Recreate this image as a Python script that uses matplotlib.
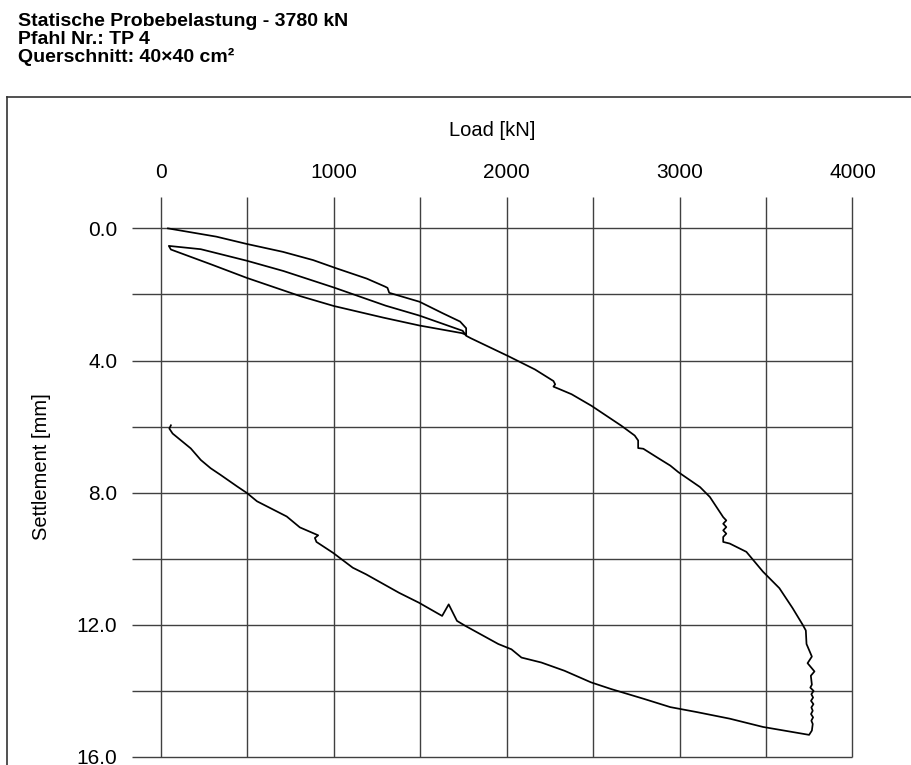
import matplotlib
matplotlib.use("Agg")
import matplotlib.pyplot as plt
from matplotlib.lines import Line2D

plt.rcParams['font.family'] = ['Liberation Sans', 'DejaVu Sans']

# first loading up to ~1760 kN
load_1 = [40, 320, 495, 705, 880, 1015, 1190, 1295, 1310, 1320, 1495, 1630, 1730, 1765, 1765]
settle_1 = [0.0, 0.25, 0.47, 0.71, 0.96, 1.21, 1.52, 1.76, 1.80, 1.95, 2.22, 2.57, 2.82, 3.02, 3.22]

# first unloading
load_unl1 = [1740, 1495, 1285, 1000, 805, 497, 290, 57, 45]
settle_unl1 = [3.17, 2.94, 2.70, 2.35, 2.05, 1.50, 1.09, 0.64, 0.53]

# reloading and loading to max load
load_2 = [230, 497, 708, 1000, 1300, 1495, 1745, 1765, 1790, 2010, 2163, 2270, 2280, 2270,
          2298, 2375, 2490, 2662, 2740, 2760, 2760, 2790, 2875, 2946, 2993, 3118, 3175,
          3252, 3270, 3252, 3270, 3252, 3270, 3252, 3252, 3290, 3386, 3482, 3577, 3653,
          3711, 3730, 3734, 3765, 3740, 3780, 3759, 3765]
settle_2 = [0.63, 0.98, 1.29, 1.79, 2.34, 2.64, 3.10, 3.25, 3.32, 3.87, 4.27, 4.62, 4.72, 4.79,
            4.85, 5.02, 5.37, 5.97, 6.27, 6.42, 6.65, 6.67, 6.95, 7.18, 7.38, 7.83, 8.13,
            8.74, 8.84, 8.94, 9.04, 9.14, 9.24, 9.34, 9.49, 9.54, 9.79, 10.39, 10.89, 11.49,
            11.99, 12.17, 12.58, 12.96, 13.16, 13.41, 13.54, 13.81]

# holding at 3780 kN (creep)
load_hold = [3756, 3775, 3762, 3772, 3760, 3774, 3762, 3770, 3760, 3772, 3762, 3770, 3765, 3749]
settle_hold = [13.9, 14.0, 14.1, 14.2, 14.3, 14.4, 14.5, 14.6, 14.7, 14.8, 14.9, 15.0, 15.2, 15.33]

# final unloading
load_unl2 = [3482, 3290, 3099, 2946, 2793, 2602, 2487, 2334, 2200, 2085, 2027, 1951, 1760,
             1712, 1664, 1626, 1492, 1377, 1186, 1109, 1033, 995, 899, 890, 909, 803, 727,
             555, 497, 440, 344, 287, 230, 172, 67, 48, 57]
settle_unl2 = [15.09, 14.84, 14.64, 14.49, 14.24, 13.94, 13.74, 13.39, 13.14, 12.99, 12.74,
               12.58, 12.03, 11.88, 11.38, 11.73, 11.33, 11.03, 10.47, 10.27, 9.97, 9.82,
               9.49, 9.37, 9.29, 9.05, 8.72, 8.26, 8.01, 7.81, 7.46, 7.26, 7.01, 6.66, 6.21,
               6.06, 5.96]

x_ticks = [0, 1000, 2000, 3000, 4000]
y_ticks = [0, 4, 8, 12, 16]

load = load_1 + load_unl1 + load_2 + load_hold + load_unl2
settle = settle_1 + settle_unl1 + settle_2 + settle_hold + settle_unl2

fig = plt.figure(figsize=(9.11, 7.65), dpi=100)
ax = fig.add_axes([132 / 911, 1 - 757 / 765, 720.5 / 911, 560 / 765])
ax.set_xlim(-168, 4000)
ax.set_ylim(16.0, -0.95)

# grid drawn by hand, lines stick out beyond the zero lines
ax.hlines(range(0, 17, 2), -168, 4000, color='0.25', lw=1.0, clip_on=False)
ax.vlines(range(0, 4001, 500), -0.95, 16.0, color='0.25', lw=1.0, clip_on=False)

ax.plot(load, settle, color='black', lw=1.25)

for sp in ax.spines.values():
    sp.set_visible(False)

ax.xaxis.tick_top()
ax.set_xticks(x_ticks)
ax.set_xticklabels([str(t) for t in x_ticks], fontsize=15)
ax.set_yticks(y_ticks)
ax.set_yticklabels(['%.1f' % t for t in y_ticks], fontsize=15)
ax.tick_params(axis='x', length=0, pad=10.5)
ax.tick_params(axis='y', length=0, pad=10.5)

fig.text(492 / 911, 1 - 131 / 765, 'Load [kN]', fontsize=14.5, ha='center', va='center')
fig.text(42 / 911, 1 - 467 / 765, 'Settlement [mm]', fontsize=14.5, rotation=90,
         ha='center', va='center')

# title block
titles = ['Statische Probebelastung - 3780 kN', 'Pfahl Nr.: TP 4', 'Querschnitt: 40×40 cm²']
for i, t in enumerate(titles):
    fig.text(18 / 911, 1 - (26 + 18.2 * i) / 765, t, fontsize=14, fontweight='bold',
             ha='left', va='baseline')

# outer frame (top and left edges)
fig.add_artist(Line2D([7 / 911, 1.0], [1 - 97 / 765, 1 - 97 / 765], color='0.2', lw=1.2,
                      transform=fig.transFigure))
fig.add_artist(Line2D([7 / 911, 7 / 911], [1 - 97 / 765, 0.0], color='0.2', lw=1.2,
                      transform=fig.transFigure))

fig.savefig('out.png', dpi=100)
